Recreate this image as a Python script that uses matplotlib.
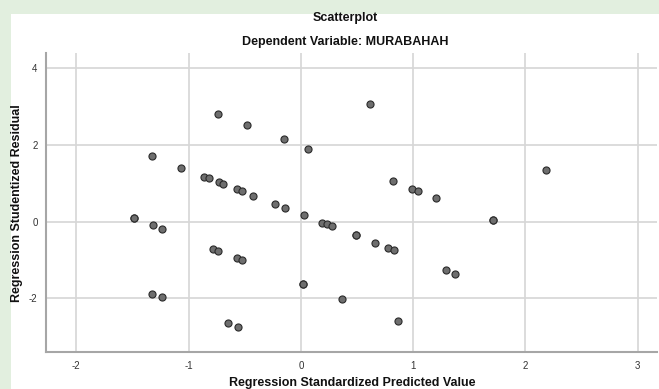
import matplotlib
matplotlib.use("Agg")
import matplotlib.pyplot as plt
from matplotlib.patches import Rectangle

plt.rcParams['font.family'] = ['Liberation Sans', 'DejaVu Sans']

# standardized predicted values (x) and studentized residuals (y)
pred = [
    -0.74, -0.48, -0.15, 0.06, -1.33, -1.07, -0.86, -0.82, -0.73, -0.69,
    -0.57, -0.52, -0.43, -0.23, -0.14, 0.03, -1.49, -1.49, -1.32, -1.24,
    0.62, 0.82, 0.99, 1.04, 1.20, 0.19, 0.23, 0.28, -0.78, -0.74,
    -0.57, -0.52, 0.02, 0.02, -1.33, -1.24, -0.65, -0.56, 0.49, 0.49,
    0.66, 0.78, 0.83, 1.29, 1.37, 0.37, 0.87, 2.18, 1.71, 1.71,
]
resid = [
    2.81, 2.53, 2.15, 1.89, 1.71, 1.39, 1.16, 1.13, 1.03, 0.98,
    0.85, 0.79, 0.68, 0.45, 0.36, 0.17, 0.09, 0.09, -0.09, -0.18,
    3.08, 1.05, 0.86, 0.80, 0.62, -0.03, -0.07, -0.12, -0.72, -0.76,
    -0.96, -1.01, -1.64, -1.64, -1.90, -1.98, -2.64, -2.74, -0.35, -0.35,
    -0.55, -0.69, -0.74, -1.27, -1.36, -2.03, -2.59, 1.34, 0.04, 0.04,
]

x_ticks = [-2, -1, 0, 1, 2, 3]
y_ticks = [-2, 0, 2, 4]

fig = plt.figure(figsize=(6.59, 3.89), dpi=100, facecolor='#e2efdf')
# white chart page over the tinted background
page = Rectangle((11 / 659, 0), 1, (389 - 14) / 389,
                 transform=fig.transFigure, facecolor='white',
                 edgecolor='none', zorder=-5)
fig.add_artist(page)

ax = fig.add_axes([46 / 659, 36.7 / 389, 610.7 / 659, 299.3 / 389])
ax.set_zorder(2)
ax.set_facecolor('white')
ax.scatter(pred, resid, s=26, facecolor='#6e6e6e', edgecolor='#2a2a2a',
           linewidth=0.8, zorder=3)

ax.set_xlim(-2.27, 3.17)
ax.set_ylim(-3.41, 4.40)
ax.set_xticks(x_ticks)
ax.set_yticks(y_ticks)
ax.set_xticklabels([str(t) for t in x_ticks])
ax.set_yticklabels([str(t) for t in y_ticks])
ax.tick_params(length=0, labelsize=7, colors='#333333', pad=6)
ax.grid(True, color='#d6d6d6', linewidth=1.2)
ax.set_axisbelow(True)

for side in ['top', 'right']:
    ax.spines[side].set_visible(False)
for side in ['left', 'bottom']:
    ax.spines[side].set_color('#a6a6a6')
    ax.spines[side].set_linewidth(1.5)

cx = 345 / 659
fig.text(cx, 1 - 18 / 389, 'Scatterplot', ha='center', va='center',
         fontsize=9, fontweight='bold', color='#111111')
fig.text(cx, 1 - 42 / 389, 'Dependent Variable: MURABAHAH', ha='center',
         va='center', fontsize=9, fontweight='bold', color='#111111')
fig.text(352 / 659, 6 / 389, 'Regression Standardized Predicted Value',
         ha='center', va='center', fontsize=9, fontweight='bold',
         color='#111111')
fig.text(17 / 659, 1 - 202.7 / 389, 'Regression Studentized Residual',
         ha='center', va='center', rotation=90, fontsize=9,
         fontweight='bold', color='#111111')

fig.savefig('out.png', dpi=100, facecolor=fig.get_facecolor())
